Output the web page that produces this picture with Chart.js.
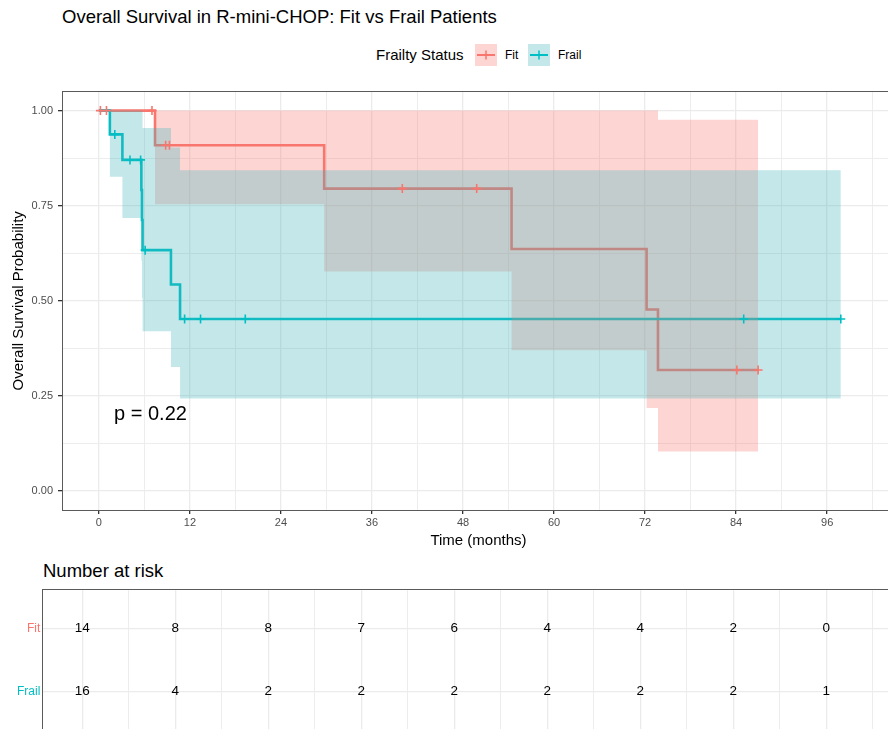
<!DOCTYPE html>
<html>
<head>
<meta charset="utf-8">
<script src="https://cdn.jsdelivr.net/npm/chart.js@4.4.1/dist/chart.umd.min.js"></script>
<style>
html,body{margin:0;padding:0;width:888px;height:729px;overflow:hidden;background:#fff;font-family:"Liberation Sans",Arial,Helvetica,sans-serif;}
.t{position:absolute;white-space:nowrap;color:#000;}
#title{left:62px;top:6px;font-size:18.5px;line-height:22px;}
#legTitle{left:376px;top:46px;font-size:15px;line-height:18px;}
#legFit{left:505px;top:47px;font-size:12px;line-height:16px;}
#legFrail{left:558px;top:47px;font-size:12px;line-height:16px;}
#riskTitle{left:43px;top:560px;font-size:18.5px;line-height:22px;}
svg.key{position:absolute;top:44px;}
#kmWrap{position:absolute;left:0;top:80px;width:900px;height:470px;}
#riskWrap{position:absolute;left:0;top:580px;width:900px;height:160px;}
</style>
</head>
<body>
<div class="t" id="title">Overall Survival in R-mini-CHOP: Fit vs Frail Patients</div>
<div class="t" id="legTitle">Frailty Status</div>
<svg class="key" style="left:475px" width="22" height="22"><rect x="0" y="0" width="22" height="22" fill="rgba(248,118,109,0.3)"/><line x1="2" y1="11" x2="20" y2="11" stroke="#F8766D" stroke-width="2"/><line x1="11" y1="6.5" x2="11" y2="15.5" stroke="#F8766D" stroke-width="1.5"/></svg>
<div class="t" id="legFit">Fit</div>
<svg class="key" style="left:528px" width="22" height="22"><rect x="0" y="0" width="22" height="22" fill="rgba(60,180,186,0.3)"/><line x1="2" y1="11" x2="20" y2="11" stroke="#00BFC4" stroke-width="2"/><line x1="11" y1="6.5" x2="11" y2="15.5" stroke="#00BFC4" stroke-width="1.5"/></svg>
<div class="t" id="legFrail">Frail</div>
<div id="kmWrap"><canvas id="km" width="900" height="470"></canvas></div>
<div class="t" id="riskTitle">Number at risk</div>
<div id="riskWrap"><canvas id="risk" width="900" height="160"></canvas></div>
<script>
// ---------------- DATA ----------------
const groups = ['Fit', 'Frail'];
const groupColors = ['#F8766D', '#00BFC4'];
const bandColors = ['rgba(248,118,109,0.3)', 'rgba(60,180,186,0.3)'];

// Kaplan-Meier steps (time in months, survival after event)
const fitTimes  = [0, 7.4, 29.7, 54.4, 72.2, 73.7, 86.9];
const fitSurv   = [1, 0.909, 0.795, 0.636, 0.477, 0.318, 0.318];
const fitLower  = [1, 0.754, 0.577, 0.370, 0.218, 0.104, 0.104];
const fitUpper  = [1, 1, 1, 1, 1, 0.976, 0.976];

const frailTimes = [0, 1.45, 3.1, 5.6, 5.68, 5.76, 9.5, 10.7, 97.8];
const frailSurv  = [1, 0.9375, 0.8705, 0.7914, 0.7123, 0.6331, 0.5427, 0.4522, 0.4522];
const frailLower = [1, 0.826, 0.718, 0.605, 0.508, 0.420, 0.326, 0.243, 0.243];
const frailUpper = [1, 1, 1, 1, 0.999, 0.954, 0.903, 0.843, 0.843];

// censoring marks
const fitCensorTimes = [0.2, 1.0, 7.0, 8.8, 9.3, 40.0, 49.8, 84.1, 86.9];
const fitCensorSurv  = [1, 1, 1, 0.909, 0.909, 0.795, 0.795, 0.318, 0.318];
const frailCensorTimes = [2.1, 4.1, 5.5, 6.1, 11.3, 13.4, 19.3, 85.0, 97.8];
const frailCensorSurv  = [0.9375, 0.8705, 0.8705, 0.6331, 0.4522, 0.4522, 0.4522, 0.4522, 0.4522];

// number at risk
const riskTimes = [0, 12, 24, 36, 48, 60, 72, 84, 96];
const fitRisk   = [14, 8, 8, 7, 6, 4, 4, 2, 0];
const frailRisk = [16, 4, 2, 2, 2, 2, 2, 2, 1];

// axes
const xBreaks = [0, 6, 12, 18, 24, 30, 36, 42, 48, 54, 60, 66, 72, 78, 84, 90, 96, 102];
const xLabels = [0, 12, 24, 36, 48, 60, 72, 84, 96];
const yBreaks = [0, 0.125, 0.25, 0.375, 0.5, 0.625, 0.75, 0.875, 1];
const yLabels = [0, 0.25, 0.5, 0.75, 1];

const pvalText = 'p = 0.22';
const pvalX = 2.0, pvalY = 0.2;

// ---------------- HELPERS ----------------
const FONT = '"Liberation Sans", Arial, Helvetica, sans-serif';
const pts = (xs, ys) => xs.map((x, i) => ({x: x, y: ys[i]}));
const GRID = '#EBEBEB';
const BORDER = '#5a5a5a';

const borderPlugin = {
  id: 'panelBorder',
  afterDraw(chart) {
    const a = chart.chartArea, c = chart.ctx;
    c.save();
    c.strokeStyle = BORDER;
    c.lineWidth = 1;
    c.strokeRect(Math.round(a.left) - 0.5, Math.round(a.top) - 0.5, Math.round(a.right - a.left) + 1, Math.round(a.bottom - a.top) + 1);
    c.restore();
  }
};

const pvalPlugin = {
  id: 'pval',
  afterDatasetsDraw(chart) {
    const c = chart.ctx;
    c.save();
    c.font = '20px ' + FONT;
    c.fillStyle = '#000';
    c.textAlign = 'left';
    c.textBaseline = 'middle';
    c.fillText(pvalText, chart.scales.x.getPixelForValue(pvalX), chart.scales.y.getPixelForValue(pvalY));
    c.restore();
  }
};

const isMajorX = v => xLabels.indexOf(v) >= 0;
const isMajorY = v => yLabels.some(l => Math.abs(l - v) < 1e-9);

Chart.defaults.font.family = FONT;

// ---------------- KM CHART ----------------
const curveDs = (label, xs, ys, color, order) => ({
  type: 'line', label, data: pts(xs, ys), stepped: 'before',
  borderColor: color, borderWidth: 2.6, pointRadius: 0, fill: false, order
});
const bandDs = (label, xs, ys, fillColor, fillTo, order) => ({
  type: 'line', label, data: pts(xs, ys), stepped: 'before',
  borderWidth: 0, borderColor: 'rgba(0,0,0,0)', pointRadius: 0,
  fill: fillTo ? {target: fillTo} : false,
  backgroundColor: fillColor, order
});
const censorDs = (label, xs, ys, color, order) => ({
  type: 'line', label, data: pts(xs, ys), showLine: false,
  pointStyle: 'cross', pointRadius: 4.5, pointBorderWidth: 1.6,
  pointBorderColor: color, pointBackgroundColor: color, order
});

new Chart(document.getElementById('km'), {
  type: 'line',
  data: {
    datasets: [
      curveDs('Fit', fitTimes, fitSurv, groupColors[0], 20),
      curveDs('Frail', frailTimes, frailSurv, groupColors[1], 19),
      bandDs('Fit upper', fitTimes, fitUpper, bandColors[0], '+1', 12),
      bandDs('Fit lower', fitTimes, fitLower, bandColors[0], null, 11),
      bandDs('Frail upper', frailTimes, frailUpper, bandColors[1], '+1', 8),
      bandDs('Frail lower', frailTimes, frailLower, bandColors[1], null, 7),
      censorDs('Fit censored', fitCensorTimes, fitCensorSurv, groupColors[0], 2),
      censorDs('Frail censored', frailCensorTimes, frailCensorSurv, groupColors[1], 1)
    ]
  },
  options: {
    responsive: false,
    devicePixelRatio: 1,
    animation: false,
    layout: {padding: {top: 11, right: 4, left: 0, bottom: 0}},
    plugins: {legend: {display: false}, tooltip: {enabled: false}, title: {display: false}},
    scales: {
      x: {
        type: 'linear', min: -4.73, max: 104.8, bounds: 'data',
        afterBuildTicks: s => { s.ticks = xBreaks.map(v => ({value: v})); },
        afterFit: s => { s.height = 40; },
        ticks: {
          autoSkip: false, maxRotation: 0, padding: 2,
          color: '#4D4D4D', font: {size: 11},
          callback: v => isMajorX(v) ? String(v) : ''
        },
        grid: {
          color: GRID,
          lineWidth: c => (c.tick && isMajorX(c.tick.value)) ? 1.3 : 0.9,
          tickColor: c => (c.tick && isMajorX(c.tick.value)) ? '#333' : 'rgba(0,0,0,0)',
          tickLength: 4, drawTicks: true
        },
        border: {display: false},
        title: {display: true, text: 'Time (months)', color: '#000', font: {size: 15}, padding: {top: 0, bottom: 0}}
      },
      y: {
        type: 'linear', min: -0.05, max: 1.05, bounds: 'data',
        afterBuildTicks: s => { s.ticks = yBreaks.map(v => ({value: v})); },
        afterFit: s => { s.width = 63; },
        ticks: {
          autoSkip: false, padding: 5,
          color: '#4D4D4D', font: {size: 11},
          callback: v => isMajorY(v) ? Number(v).toFixed(2) : ''
        },
        grid: {
          color: GRID,
          lineWidth: c => (c.tick && isMajorY(c.tick.value)) ? 1.3 : 0.9,
          tickColor: c => (c.tick && isMajorY(c.tick.value)) ? '#333' : 'rgba(0,0,0,0)',
          tickLength: 5, drawTicks: true
        },
        border: {display: false},
        title: {display: true, text: 'Overall Survival Probability', color: '#000', font: {size: 15}, padding: {top: 10, bottom: 0}}
      }
    }
  },
  plugins: [borderPlugin, pvalPlugin]
});

// ---------------- RISK TABLE ----------------
const riskTextPlugin = {
  id: 'riskText',
  afterDatasetsDraw(chart) {
    const c = chart.ctx;
    c.save();
    c.font = '13.5px ' + FONT;
    c.fillStyle = '#000';
    c.textAlign = 'center';
    c.textBaseline = 'middle';
    chart.data.datasets.forEach((ds, di) => {
      const meta = chart.getDatasetMeta(di);
      meta.data.forEach((el, i) => {
        c.fillText(String(ds.counts[i]), el.x, el.y);
      });
    });
    c.restore();
  }
};

new Chart(document.getElementById('risk'), {
  type: 'scatter',
  data: {
    datasets: [
      {label: 'Fit', data: riskTimes.map(t => ({x: t, y: 1})), counts: fitRisk, pointRadius: 0},
      {label: 'Frail', data: riskTimes.map(t => ({x: t, y: 0})), counts: frailRisk, pointRadius: 0}
    ]
  },
  options: {
    responsive: false,
    devicePixelRatio: 1,
    animation: false,
    layout: {padding: {top: 8, right: 4, left: 0, bottom: 8}},
    plugins: {legend: {display: false}, tooltip: {enabled: false}},
    scales: {
      x: {
        type: 'linear', min: -5.03, max: 105.0, bounds: 'data',
        afterBuildTicks: s => { s.ticks = xBreaks.map(v => ({value: v})); },
        afterFit: s => { s.height = 0; },
        ticks: {display: false},
        grid: {
          color: GRID,
          lineWidth: c => (c.tick && isMajorX(c.tick.value)) ? 1.3 : 0.9,
          drawTicks: false
        },
        border: {display: false}
      },
      y: {
        type: 'linear', min: -0.6, max: 1.6, bounds: 'data',
        afterBuildTicks: s => { s.ticks = [{value: 0}, {value: 1}]; },
        afterFit: s => { s.width = 43.3; },
        ticks: {
          autoSkip: false, padding: 3, font: {size: 12},
          color: c => c.tick && c.tick.value === 1 ? groupColors[0] : groupColors[1],
          callback: v => v === 1 ? groups[0] : (v === 0 ? groups[1] : '')
        },
        grid: {color: GRID, lineWidth: 1.3, drawTicks: false},
        border: {display: false}
      }
    }
  },
  plugins: [borderPlugin, riskTextPlugin]
});
</script>
</body>
</html>
